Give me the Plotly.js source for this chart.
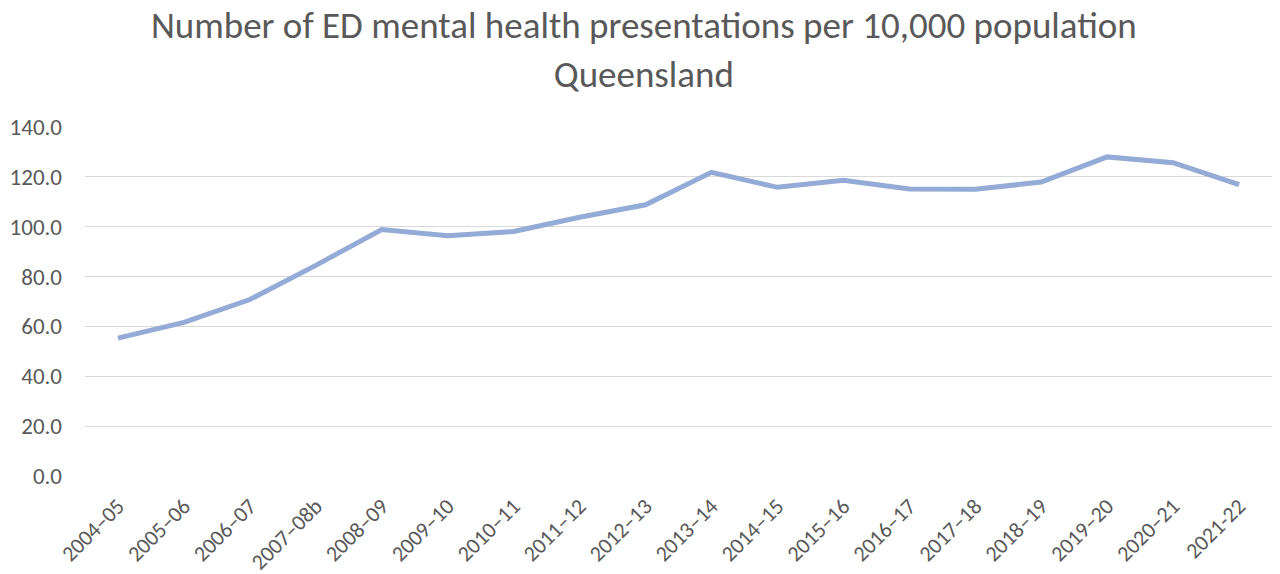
<!DOCTYPE html>
<html>
<head>
<meta charset="utf-8">
<script src="https://cdn.plot.ly/plotly-3.0.1.min.js"></script>
<style>html,body{margin:0;padding:0;background:#fff;}#chart{width:1280px;height:574px;}</style>
</head>
<body>
<div id="chart"></div>
<script>
const categories = ["2004–05","2005–06","2006–07","2007–08b","2008–09","2009–10","2010–11","2011–12","2012–13","2013–14","2014–15","2015–16","2016–17","2017–18","2018–19","2019–20","2020–21","2021-22"];
const values = [55.3, 61.6, 70.8, 84.5, 98.9, 96.4, 98.1, 103.8, 108.8, 121.8, 115.8, 118.6, 115.1, 115.0, 117.9, 128.0, 125.7, 116.9];
const yTicks = [0, 20, 40, 60, 80, 100, 120, 140];
const titleText = "Number of ED mental health presentations per 10,000 population<br>Queensland";

const FONT = "Carlito, 'Open Sans', sans-serif";
const GREY = "#595959";

Plotly.newPlot("chart", [{
  type: "scatter",
  mode: "lines",
  x: categories,
  y: values,
  line: {color: "#93ABD6", width: 5},
  hoverinfo: "x+y"
}], {
  width: 1280,
  height: 574,
  paper_bgcolor: "#ffffff",
  plot_bgcolor: "#ffffff",
  showlegend: false,
  margin: {l: 85, r: 8, t: 127, b: 98},
  title: {
    text: titleText,
    font: {family: FONT, size: 37, color: GREY},
    x: 0.503, xref: "container", xanchor: "center",
    y: 0.933, yref: "container", yanchor: "middle"
  },
  xaxis: {
    type: "category",
    range: [-0.5, categories.length - 0.5],
    showgrid: false,
    zeroline: false,
    showline: false,
    ticks: "",
    tickangle: -45,
    ticklabelstandoff: 12,
    tickfont: {family: FONT, size: 22, color: GREY}
  },
  yaxis: {
    range: [0, 140],
    tickvals: yTicks,
    tickformat: ".1f",
    showgrid: true,
    gridcolor: "#D9D9D9",
    gridwidth: 1,
    zeroline: false,
    showline: false,
    ticks: "",
    ticklabelstandoff: 22,
    tickfont: {family: FONT, size: 23, color: GREY}
  }
}, {displayModeBar: false, staticPlot: true});
</script>
</body>
</html>
